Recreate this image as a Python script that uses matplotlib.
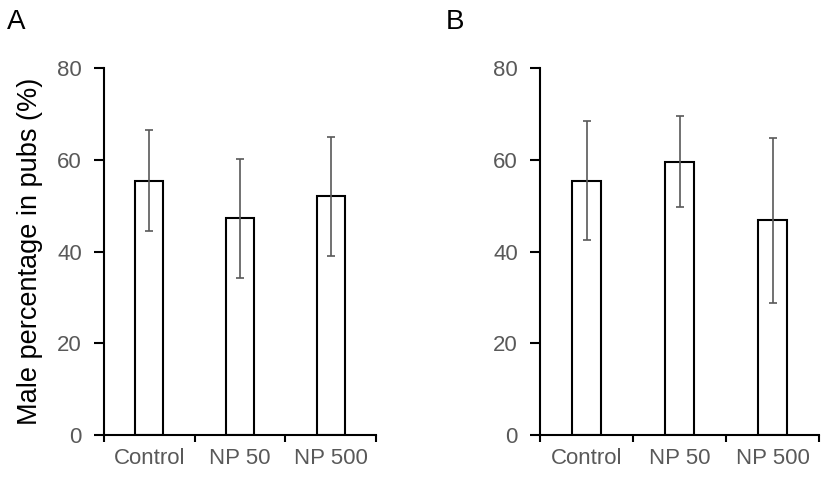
import matplotlib
matplotlib.use("Agg")
import matplotlib.pyplot as plt
import numpy as np

plt.rcParams['font.family'] = ['Liberation Sans', 'DejaVu Sans']

categories = ["Control", "NP 50", "NP 500"]
means_a = [55.4, 47.2, 52.0]
errs_a = [11.0, 13.0, 13.0]
means_b = [55.4, 59.6, 46.8]
errs_b = [13.0, 10.0, 18.0]
yticks = [0, 20, 40, 60, 80]
ylabel = "Male percentage in pubs (%)"

fig = plt.figure(figsize=(8.27, 4.83), dpi=100)
H = 483.0
W = 827.0

def make_axes(left_px, right_px):
    return fig.add_axes([left_px / W, 1 - 435 / H, (right_px - left_px) / W, (435 - 68) / H])

gray = "#595959"

def draw(ax, means, errs):
    x = np.arange(len(categories))
    ax.bar(x, means, width=0.31, color="white", edgecolor="black", linewidth=1.5, zorder=2)
    ax.errorbar(x, means, yerr=errs, fmt="none", ecolor=gray, elinewidth=1.2,
                capsize=3, capthick=1.2, zorder=3)
    ax.set_xlim(-0.5, len(categories) - 0.5)
    ax.set_ylim(0, 80)
    ax.set_yticks(yticks)
    ax.set_xticks(np.arange(len(categories) + 1) - 0.5)
    ax.set_xticklabels([])
    ax.set_xticks(x, minor=True)
    ax.set_xticklabels(categories, minor=True)
    ax.tick_params(axis="x", which="major", length=5, width=1.5, direction="out", color="black")
    ax.tick_params(axis="x", which="minor", length=0, pad=9, labelsize=16, labelcolor=gray)
    ax.tick_params(axis="y", length=7, width=1.5, direction="out", pad=9, labelsize=16,
                   labelcolor=gray, color="black")
    for s in ["top", "right"]:
        ax.spines[s].set_visible(False)
    for s in ["left", "bottom"]:
        ax.spines[s].set_linewidth(1.5)
        ax.spines[s].set_color("black")

ax_a = make_axes(104, 376)
draw(ax_a, means_a, errs_a)
ax_a.set_ylabel(ylabel, fontsize=19.5, color="black", labelpad=10)

ax_b = make_axes(540, 819)
draw(ax_b, means_b, errs_b)

fig.text(7 / W, 1 - 29 / H, "A", fontsize=20, color="black")
fig.text(446 / W, 1 - 29 / H, "B", fontsize=20, color="black")

fig.savefig("out.png", dpi=100)
